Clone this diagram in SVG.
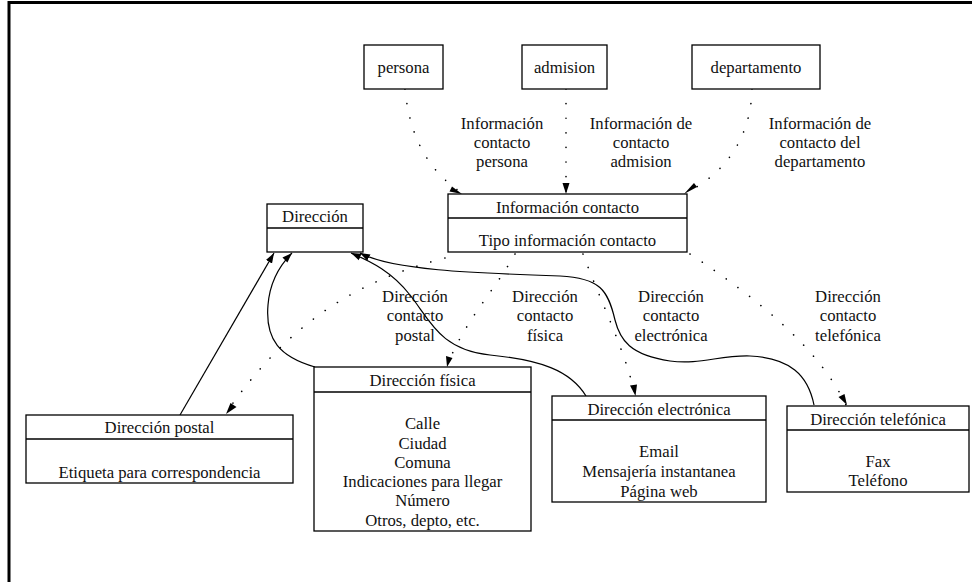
<svg xmlns="http://www.w3.org/2000/svg" width="972" height="582" viewBox="0 0 972 582">
<defs>
<marker id="ah" viewBox="0 0 10 10" refX="10" refY="5" markerWidth="10" markerHeight="10" markerUnits="userSpaceOnUse" orient="auto">
<path d="M0,1.5 L10,5 L0,8.5 z" fill="#000"/>
</marker>
<style>
.box{fill:#fff;stroke:#000;stroke-width:1.3}
.div{stroke:#000;stroke-width:1.3}
.t{font-family:'Liberation Serif','DejaVu Serif','Times New Roman',serif;font-size:16.7px;fill:#111;text-anchor:middle}
.dot{fill:none;stroke:#000;stroke-width:1.6;stroke-linecap:round;stroke-dasharray:0.1 14.5}
.sol{fill:none;stroke:#000;stroke-width:1.2}
</style>
</defs>
<rect width="972" height="582" fill="#fff"/>
<path d="M9,582 V2.5 H972" fill="none" stroke="#000" stroke-width="3"/>

<g id="connectors">
<path class="dot" d="M405,89 C410,140 430,172 462,193"/>
<path class="dot" d="M566,89 L566,193"/>
<path class="dot" d="M752,89 C751,140 722,176 685,193"/>
<path class="dot" d="M445,258 C360,280 290,320 226,413"/>
<path class="dot" d="M515,254 C495,290 465,320 447,366"/>
<path class="dot" d="M583,254 C600,300 625,350 635,395"/>
<path class="dot" d="M690,254 C760,300 820,350 846,405"/>
<g fill="#000">
<path d="M462,194 L452,186.5 L449.5,191.5 z"/>
<path d="M566,194 L562.5,183 L569.5,183 z"/>
<path d="M684,194 L697,187 L694,183 z"/>
<path d="M226,414 L230.5,403 L236.5,407 z"/>
<path d="M447,367 L446,356 L452.5,358 z"/>
<path d="M635.5,396 L630,385.5 L637,384.5 z"/>
<path d="M847,405 L838.5,397 L844.5,394 z"/>
</g>
<path class="sol" d="M180,415 L274,253" marker-end="url(#ah)"/>
<path class="sol" d="M315,367 C280,357 265,340 268,305 C270,280 282,263 292,253" marker-end="url(#ah)"/>
<path class="sol" d="M586,396 C570,370 540,360 490,355 C440,350 430,320 410,295 C392,272 372,262 351,253" marker-end="url(#ah)"/>
<path class="sol" d="M814,405 C808,375 790,358 750,356 C720,355 700,365 670,361 C630,355 620,340 615,320 C608,290 600,278 560,276 C470,273 392,270 360,253" marker-end="url(#ah)"/>
</g>

<g id="labels" class="t" font-family="Liberation Serif, DejaVu Serif, serif">
<text x="502" y="128.5">Información</text>
<text x="502" y="147.5">contacto</text>
<text x="502" y="166.5">persona</text>
<text x="641" y="128.5">Información de</text>
<text x="641" y="147.5">contacto</text>
<text x="641" y="166.5">admision</text>
<text x="820" y="128.5">Información de</text>
<text x="820" y="147.5">contacto del</text>
<text x="820" y="166.5">departamento</text>
<text x="415" y="301.5">Dirección</text>
<text x="415" y="321">contacto</text>
<text x="415" y="340.5">postal</text>
<text x="545" y="301.5">Dirección</text>
<text x="545" y="321">contacto</text>
<text x="545" y="340.5">física</text>
<text x="671" y="301.5">Dirección</text>
<text x="671" y="321">contacto</text>
<text x="671" y="340.5">electrónica</text>
<text x="848" y="301.5">Dirección</text>
<text x="848" y="321">contacto</text>
<text x="848" y="340.5">telefónica</text>
</g>

<g id="persona" class="t">
<rect class="box" x="364" y="45" width="79" height="44"/>
<text x="403.5" y="73">persona</text>
</g>
<g id="admision" class="t">
<rect class="box" x="522" y="45" width="85" height="44"/>
<text x="564.5" y="73">admision</text>
</g>
<g id="departamento" class="t">
<rect class="box" x="692" y="45" width="128" height="44"/>
<text x="756" y="73">departamento</text>
</g>
<g id="informacion-contacto" class="t">
<rect class="box" x="448" y="194" width="239" height="58"/>
<line class="div" x1="448" y1="218" x2="687" y2="218"/>
<text x="567.5" y="213">Información contacto</text>
<text x="567.5" y="246">Tipo información contacto</text>
</g>
<g id="direccion" class="t">
<rect class="box" x="267" y="204" width="96" height="48"/>
<line class="div" x1="267" y1="228" x2="363" y2="228"/>
<text x="315" y="222">Dirección</text>
</g>
<g id="direccion-postal" class="t">
<rect class="box" x="26" y="415" width="267" height="68"/>
<line class="div" x1="26" y1="439" x2="293" y2="439"/>
<text x="159.5" y="433">Dirección postal</text>
<text x="159.5" y="478">Etiqueta para correspondencia</text>
</g>
<g id="direccion-fisica" class="t">
<rect class="box" x="314" y="367" width="217" height="164"/>
<line class="div" x1="314" y1="392" x2="531" y2="392"/>
<text x="422.5" y="386">Dirección física</text>
<text x="422.5" y="429">Calle</text>
<text x="422.5" y="448.5">Ciudad</text>
<text x="422.5" y="467.5">Comuna</text>
<text x="422.5" y="487">Indicaciones para llegar</text>
<text x="422.5" y="506">Número</text>
<text x="422.5" y="526">Otros, depto, etc.</text>
</g>
<g id="direccion-electronica" class="t">
<rect class="box" x="552" y="396" width="214" height="106"/>
<line class="div" x1="552" y1="420" x2="766" y2="420"/>
<text x="659" y="414.5">Dirección electrónica</text>
<text x="659" y="457">Email</text>
<text x="659" y="477">Mensajería instantanea</text>
<text x="659" y="496.5">Página web</text>
</g>
<g id="direccion-telefonica" class="t">
<rect class="box" x="787" y="406" width="182" height="86"/>
<line class="div" x1="787" y1="430" x2="969" y2="430"/>
<text x="878" y="424.5">Dirección telefónica</text>
<text x="878" y="467">Fax</text>
<text x="878" y="485.5">Teléfono</text>
</g>
</svg>
